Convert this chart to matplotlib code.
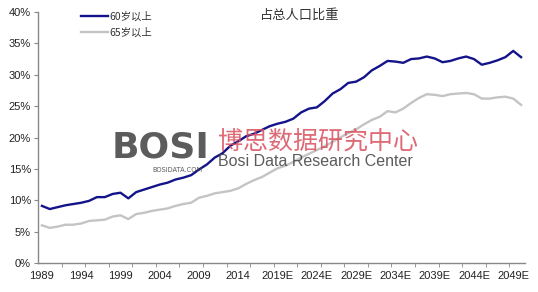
import matplotlib
matplotlib.use("Agg")
import matplotlib.pyplot as plt
import numpy as np

years = list(range(1989, 2051))
tick_labels = ["1989", "1994", "1999", "2004", "2009", "2014", "2019E", "2024E",
               "2029E", "2034E", "2039E", "2044E", "2049E"]

age60 = [9.1, 8.6, 8.9, 9.2, 9.4, 9.6, 9.9, 10.5, 10.5, 11.0,
         11.2, 10.3, 11.3, 11.7, 12.1, 12.5, 12.8, 13.3, 13.6, 14.0,
         14.9, 15.7, 16.8, 17.5, 18.7, 19.4, 20.2, 20.6, 21.2, 21.8,
         22.2, 22.5, 23.0, 24.0, 24.6, 24.8, 25.8, 27.0, 27.7, 28.7,
         28.9, 29.6, 30.7, 31.4, 32.2, 32.1, 31.9, 32.5, 32.6, 32.9,
         32.6, 32.0, 32.2, 32.6, 32.9, 32.5, 31.6, 31.9, 32.3, 32.8,
         33.8, 32.8]

age65 = [6.0, 5.6, 5.8, 6.1, 6.1, 6.3, 6.7, 6.8, 6.9, 7.4,
         7.6, 7.0, 7.8, 8.0, 8.3, 8.5, 8.7, 9.1, 9.4, 9.6,
         10.4, 10.7, 11.1, 11.3, 11.5, 11.9, 12.6, 13.2, 13.7, 14.4,
         15.1, 15.5, 16.1, 16.8, 17.4, 18.0, 18.6, 19.3, 20.0, 20.7,
         21.3, 22.1, 22.8, 23.3, 24.2, 24.0, 24.6, 25.5, 26.3, 26.9,
         26.8, 26.6, 26.9, 27.0, 27.1, 26.9, 26.2, 26.2, 26.4, 26.5,
         26.2, 25.2]

series_names = ["60岁以上", "65岁以上"]
title = "占总人口比重"

plt.rcParams['font.family'] = ['Liberation Sans', 'Noto Sans CJK SC', 'DejaVu Sans']

W, H = 538, 292
fig = plt.figure(figsize=(W / 100, H / 100), dpi=100)
ax = fig.add_axes([38 / W, 29 / H, (525 - 38) / W, (280 - 29) / H])

x = np.arange(len(years))
ax.plot(x, age60, color="#14148a", lw=1.7, label=series_names[0], zorder=3)
ax.plot(x, age65, color="#c4c4c4", lw=1.7, label=series_names[1], zorder=2)

ax.set_xlim(-0.5, len(years) - 0.5)
ax.set_ylim(0, 40)
ax.set_yticks(np.arange(0, 41, 5))
ax.set_yticklabels([f"{v}%" for v in range(0, 41, 5)], fontsize=8, color="#222222")

major = [years.index(int(t.rstrip("E"))) for t in tick_labels]
ax.set_xticks(major)
ax.set_xticklabels(tick_labels, fontsize=8, color="#222222")
ax.set_xticks(np.arange(2.5, len(years) - 1, 3), minor=True)
ax.tick_params(axis="x", which="major", length=0, pad=6)
ax.tick_params(axis="x", which="minor", length=3, color="#888888", direction="out")
ax.tick_params(axis="y", length=3, color="#888888", direction="out", pad=2)

for s in ["top", "right"]:
    ax.spines[s].set_visible(False)
for s in ["left", "bottom"]:
    ax.spines[s].set_color("#888888")
    ax.spines[s].set_linewidth(1.0)

cjk = ['Noto Sans CJK SC', 'DejaVu Sans']
leg = ax.legend(loc="upper left", bbox_to_anchor=(0.07, 1.04), frameon=False,
                handlelength=2.5, handletextpad=0.2, labelspacing=0.55,
                prop={'family': cjk, 'size': 7.5})
for t in leg.get_texts():
    t.set_color("#333333")

ax.text(0.538, 0.985, title, transform=ax.transAxes, ha="center", va="center",
        fontsize=9.5, family=cjk, color="#333333")

# watermark
fig.text(112 / W, 1 - 157 / H, "BOSI", fontsize=26, fontweight="bold",
         family=['DejaVu Sans'], color="#4a4a4a", ha="left", va="baseline", alpha=0.9, zorder=5)
fig.text(152 / W, 1 - 172 / H, "BOSIDATA.COM", fontsize=4.8,
         family=['DejaVu Sans'], color="#4a4a4a", ha="left", va="baseline", alpha=0.9, zorder=5)
fig.text(218 / W, 1 - 149 / H, "博思数据研究中心", fontsize=18, family=cjk,
         color="#d9505e", ha="left", va="baseline", alpha=0.85, zorder=5)
fig.text(218 / W, 1 - 166 / H, "Bosi Data Research Center", fontsize=11.5,
         family=['Liberation Sans', 'DejaVu Sans'],
         color="#4a4a4a", ha="left", va="baseline", alpha=0.9, zorder=5)

fig.savefig("out.png", dpi=100, facecolor="white")
